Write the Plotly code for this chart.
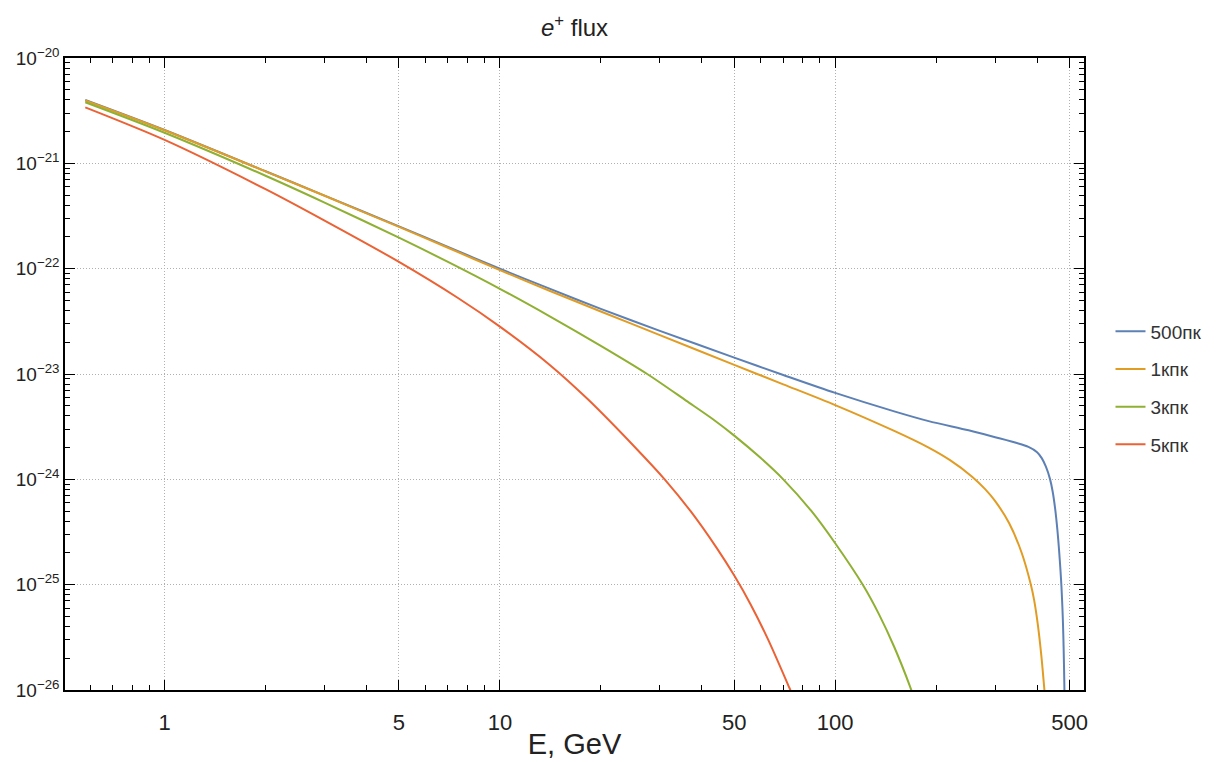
import plotly.graph_objects as go

# ---- data ----
E_500 = [0.58, 1, 2, 3, 5, 7, 10, 14, 20, 30, 50, 70, 100, 150, 190, 250, 300, 350, 377, 400, 413, 425, 437, 445, 453, 460, 465, 470, 473, 476, 478, 480, 482, 484]
F_500 = [3.99e-21, 2.07e-21, 8.41e-22, 4.94e-22, 2.52e-22, 1.61e-22, 1.0e-22, 6.49e-23, 4.15e-23, 2.57e-23, 1.43e-23, 9.79e-24, 6.62e-24, 4.42e-24, 3.57e-24, 2.92e-24, 2.51e-24, 2.20e-24, 2.03e-24, 1.81e-24, 1.59e-24, 1.32e-24, 1.01e-24, 7.71e-25, 5.21e-25, 3.28e-25, 2.17e-25, 1.33e-25, 9.40e-26, 6.04e-26, 4.14e-26, 2.51e-26, 1.29e-26, 5.6e-27]

E_1k = [0.58, 1, 2, 3, 5, 7, 10, 14, 20, 30, 50, 70, 100, 150, 190, 220, 256, 280, 300, 330, 360, 383, 392, 402, 412, 422]
F_1k = [3.95e-21, 2.06e-21, 8.38e-22, 4.92e-22, 2.49e-22, 1.58e-22, 9.68e-23, 6.21e-23, 3.92e-23, 2.34e-23, 1.22e-23, 7.98e-24, 5.07e-24, 2.88e-24, 2.0e-24, 1.52e-24, 1.06e-24, 8.07e-25, 6.21e-25, 3.85e-25, 2.0e-25, 1.01e-25, 7.14e-26, 4.20e-26, 2.10e-26, 8.9e-27]

E_3k = [0.58, 1, 2, 3, 5, 7, 10, 14, 20, 27.5, 36, 43, 50, 60, 70, 85, 100, 121, 135, 150, 167, 175]
F_3k = [3.80e-21, 1.95e-21, 7.62e-22, 4.24e-22, 1.97e-22, 1.16e-22, 6.44e-23, 3.57e-23, 1.85e-23, 1.0e-23, 5.56e-24, 3.76e-24, 2.60e-24, 1.59e-24, 1.0e-24, 4.98e-25, 2.47e-25, 9.91e-26, 5.25e-26, 2.56e-26, 1.09e-26, 7.1e-27]

E_5k = [0.58, 1, 2, 3, 5, 7.5, 10, 14, 18.3, 25.7, 31, 37, 44.4, 50, 56, 63, 73, 76]
F_5k = [3.40e-21, 1.67e-21, 5.69e-22, 2.86e-22, 1.16e-22, 5.27e-23, 2.82e-23, 1.24e-23, 5.75e-24, 1.91e-24, 1.0e-24, 5.01e-25, 2.21e-25, 1.22e-25, 6.46e-26, 3.04e-26, 1.05e-26, 7.8e-27]

names = ["500пк", "1кпк", "3кпк", "5кпк"]
colors = ["#5E81B5", "#E19C24", "#8FB032", "#EB6235"]

x_major = [1, 5, 10, 50, 100, 500]
x_minor = [0.6, 0.7, 0.8, 0.9, 2, 3, 4, 6, 7, 8, 9, 20, 30, 40, 60, 70, 80, 90, 200, 300, 400]
y_exps = [-26, -25, -24, -23, -22, -21, -20]
y_major = [10.0 ** e for e in y_exps]
y_text = ["10<sup>\u2212%d</sup>" % (-e) for e in y_exps]
y_minor = [m * 10.0 ** e for e in y_exps[:-1] for m in range(2, 10)]

fig = go.Figure()
for i, (E, F) in enumerate([(E_500, F_500), (E_1k, F_1k), (E_3k, F_3k), (E_5k, F_5k)]):
    fig.add_trace(go.Scatter(
        x=E, y=F, mode="lines", name=names[i], legendgroup=names[i],
        line=dict(color=colors[i], width=2, shape="spline", smoothing=0.8),
    ))

font_family = "Liberation Sans, Arial, sans-serif"
fig.update_layout(
    width=1219, height=762, autosize=False,
    margin=dict(l=65, r=130, t=58, b=72),
    paper_bgcolor="white", plot_bgcolor="white",
    font=dict(family=font_family, color="#222222"),
    title=dict(text="<i>e</i><sup>+</sup> flux", x=0.5, xref="paper", xanchor="center",
               y=1 - 28 / 762, yref="container", yanchor="middle",
               font=dict(size=24, color="#222222")),
    legend=dict(x=1.026, xanchor="left", y=0.478, yanchor="middle",
                font=dict(size=19, color="#333333"), tracegroupgap=10,
                bgcolor="rgba(0,0,0,0)"),
    showlegend=True,
)

fig.update_xaxes(
    type="log", range=[-0.297, 2.742],
    tickmode="array", tickvals=x_major, ticktext=[str(v) for v in x_major],
    ticks="inside", ticklen=10, tickwidth=1, tickcolor="black",
    showline=True, linecolor="black", linewidth=1.5, mirror="allticks",
    showgrid=True, gridcolor="#b0b0b0", griddash="1px,2px", gridwidth=1,
    tickfont=dict(size=22, color="#222222"), ticklabelstandoff=12,
    minor=dict(tickmode="array", tickvals=x_minor, ticks="inside", ticklen=5,
               tickcolor="black", showgrid=False),
    title=dict(text="E, GeV", font=dict(size=29, color="#222222"), standoff=0),
    zeroline=False, automargin=False,
)
fig.update_yaxes(
    type="log", range=[-26, -20],
    tickmode="array", tickvals=y_major, ticktext=y_text,
    ticks="inside", ticklen=10, tickwidth=1, tickcolor="black",
    showline=True, linecolor="black", linewidth=1.5, mirror="allticks",
    showgrid=True, gridcolor="#b0b0b0", griddash="1px,2px", gridwidth=1,
    tickfont=dict(size=19, color="#222222"),
    minor=dict(tickmode="array", tickvals=y_minor, ticks="inside", ticklen=5,
               tickcolor="black", showgrid=False),
    zeroline=False, automargin=False,
)

fig.write_html("out.html")
